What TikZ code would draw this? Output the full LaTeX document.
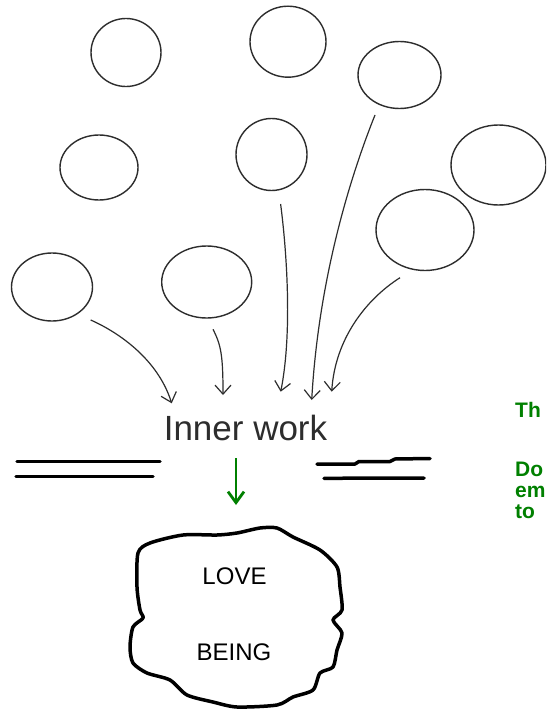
\documentclass[tikz,border=0pt]{standalone}
\usepackage{fontspec}
\setmainfont{Liberation Sans}
\usetikzlibrary{arrows.meta,shapes.geometric}
\definecolor{ink}{RGB}{45,45,45}
\definecolor{grn}{RGB}{0,128,0}
\begin{document}
\begin{tikzpicture}[x=1pt,y=-1pt,
  bubble/.style={ellipse, draw=ink, line width=1.4pt, inner sep=0pt},
  feed/.style={draw=ink, line width=1.2pt, -{Straight Barb[length=9pt,width=16pt,line width=1.2pt]}},
  gotop/.style={draw=grn, line width=2.8pt, -{Straight Barb[length=11pt,width=16pt,line width=2.8pt]}},
  bar/.style={line width=3.5pt, line cap=round, line join=round, black},
  greentext/.style={anchor=base west, inner sep=0pt, text=grn, font=\bfseries\fontsize{21pt}{23pt}\selectfont},
  cloudtext/.style={inner sep=0pt, text=black, font=\fontsize{24pt}{28pt}\selectfont}]
\useasboundingbox (0,0) rectangle (546,709);
\clip (0,0) rectangle (546,709);
\fill[white] (0,0) rectangle (546,709);

% bubbles
\node[bubble, minimum width=70pt, minimum height=68pt] (e1) at (126,52.5) {};
\node[bubble, minimum width=76pt, minimum height=71pt] (e2) at (288,41.7) {};
\node[bubble, minimum width=83pt, minimum height=67pt] (e3) at (399.5,75) {};
\node[bubble, minimum width=78pt, minimum height=65pt] (e4) at (99,167.5) {};
\node[bubble, minimum width=71pt, minimum height=72pt] (e5) at (271.5,154.5) {};
\node[bubble, minimum width=95pt, minimum height=80pt] (e6) at (498.5,165) {};
\node[bubble, minimum width=98pt, minimum height=81pt] (e7) at (425,230) {};
\node[bubble, minimum width=81pt, minimum height=68pt] (e8) at (52,287) {};
\node[bubble, minimum width=90pt, minimum height=72pt] (e9) at (206.7,282) {};

% inner work
\node[anchor=base, inner sep=0pt, text=ink, font=\fontsize{35pt}{40pt}\selectfont] (iw) at (245.5,440) {Inner work};

% connector ends
\coordinate (a0) at (90.7,320);  \coordinate (a1) at (171.7,403.3);
\coordinate (b0) at (213,329.3); \coordinate (b1) at (223,395);
\coordinate (c0) at (280.6,204); \coordinate (c1) at (280.7,391.7);
\coordinate (d0) at (375,115);   \coordinate (d1) at (311.7,400);
\coordinate (f0) at (400,277.7); \coordinate (f1) at (331.7,391.7);

\draw[feed] (a0) .. controls (120,333) and (158,360) .. (a1);
\draw[feed] (b0) .. controls (221,345) and (223,355) .. (b1);
\draw[feed] (c0) .. controls (286,245) and (293,330) .. (c1);
\draw[feed] (d0) .. controls (345,190) and (318,290) .. (d1);
\draw[feed] (f0) .. controls (365,300) and (335,340) .. (f1);

% double lines
\draw[bar] (17,461.7) -- (160,461.7);
\draw[bar] (16,476.7) -- (153,476.7);
\draw[bar] (317,464) -- (355,464) -- (359,461.5) -- (390,461.5) -- (395,459) -- (430,458.5);
\draw[bar] (324,478.3) -- (424,478);

% green arrow
\coordinate (g0) at (236,458);
\coordinate (g1) at (236,505);
\draw[gotop] (g0) -- (g1);

% green text
\node[greentext] (t1) at (515,417) {Th};
\node[greentext] (t2) at (515,476) {Do};
\node[greentext] (t3) at (515,497) {em};
\node[greentext] (t4) at (515,518) {to};

% cloud
\draw[line width=3.5pt, line join=round, black] plot[smooth cycle, tension=0.45] coordinates {
  (138,553) (150,543) (183,535) (217,535) (237,533) (260,528) (277,528)
  (293,537) (320,550) (337,567) (340,587) (342,610) (333,620) (342,633)
  (337,650) (333,667) (320,673) (313,690) (293,697) (277,705) (237,707)
  (213,702) (187,695) (170,680) (147,673) (133,663) (130,647) (133,627)
  (143,618) (140,610) (137,587)};
\node[cloudtext] (love) at (234.5,576.5) {LOVE};
\node[cloudtext] (being) at (234,652.5) {BEING};
\end{tikzpicture}
\end{document}
